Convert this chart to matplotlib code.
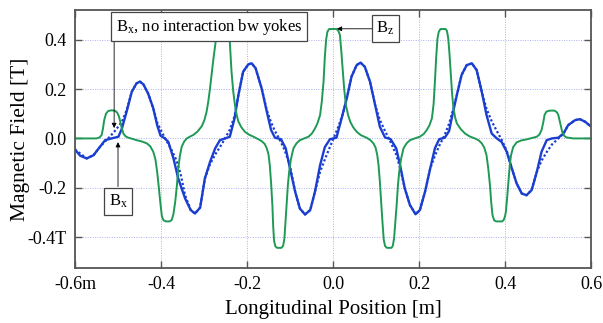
import matplotlib
matplotlib.use("Agg")
import matplotlib.pyplot as plt

plt.rcParams['font.family'] = ['Liberation Serif', 'DejaVu Serif']
plt.rcParams['mathtext.fontset'] = 'custom'
plt.rcParams['mathtext.rm'] = 'Liberation Serif'
plt.rcParams['mathtext.it'] = 'Liberation Serif'

# Bz (green)
bz_x = [-0.600, -0.550, -0.543, -0.538, -0.535, -0.532, -0.528, -0.523, -0.515, -0.507,
        -0.502, -0.498, -0.495, -0.491, -0.487, -0.482, -0.476, -0.466, -0.457, -0.445,
        -0.433, -0.425, -0.418, -0.413, -0.409, -0.405, -0.401, -0.398, -0.394, -0.388,
        -0.380, -0.375, -0.371, -0.367, -0.363, -0.360, -0.356, -0.352, -0.346, -0.340,
        -0.332, -0.325, -0.315, -0.305, -0.299, -0.294, -0.290, -0.286, -0.282, -0.278,
        -0.273, -0.269, -0.265, -0.250, -0.245, -0.240, -0.238, -0.236, -0.232, -0.228,
        -0.224, -0.220, -0.213, -0.205, -0.195, -0.185, -0.175, -0.166, -0.159, -0.154,
        -0.150, -0.147, -0.144, -0.141, -0.139, -0.137, -0.134, -0.130, -0.120, -0.116,
        -0.113, -0.111, -0.108, -0.105, -0.102, -0.098, -0.092, -0.085, -0.077, -0.067,
        -0.057, -0.049, -0.042, -0.036, -0.030, -0.026, -0.022, -0.019, -0.016, -0.013,
        -0.009, 0.008, 0.012, 0.016, 0.019, 0.023, 0.026, 0.030, 0.035, 0.040,
        0.047, 0.055, 0.065, 0.078, 0.087, 0.094, 0.099, 0.103, 0.106, 0.109,
        0.112, 0.115, 0.118, 0.121, 0.125, 0.136, 0.139, 0.142, 0.145, 0.148,
        0.151, 0.154, 0.158, 0.164, 0.171, 0.179, 0.190, 0.202, 0.211, 0.218,
        0.224, 0.230, 0.234, 0.237, 0.240, 0.243, 0.246, 0.250, 0.262, 0.265,
        0.268, 0.271, 0.274, 0.277, 0.280, 0.284, 0.288, 0.297, 0.307, 0.318,
        0.330, 0.339, 0.346, 0.352, 0.357, 0.361, 0.365, 0.368, 0.371, 0.375,
        0.380, 0.393, 0.397, 0.400, 0.402, 0.405, 0.408, 0.411, 0.414, 0.419,
        0.427, 0.438, 0.450, 0.463, 0.474, 0.480, 0.485, 0.489, 0.492, 0.496,
        0.502, 0.510, 0.516, 0.521, 0.524, 0.528, 0.533, 0.538, 0.543, 0.559,
        0.600]
bz_y = [0.0, 0.0, 0.004, 0.014, 0.040, 0.075, 0.100, 0.111, 0.114, 0.112,
        0.105, 0.090, 0.070, 0.040, 0.018, 0.008, 0.003, -0.002, -0.007, -0.012,
        -0.020, -0.032, -0.054, -0.085, -0.135, -0.200, -0.270, -0.315, -0.332, -0.336,
        -0.336, -0.330, -0.305, -0.257, -0.190, -0.122, -0.070, -0.034, -0.012, 0.0,
        0.008, 0.014, 0.028, 0.050, 0.075, 0.108, 0.150, 0.203, 0.265, 0.324,
        0.390, 0.430, 0.443, 0.443, 0.430, 0.390, 0.330, 0.270, 0.190, 0.135,
        0.095, 0.068, 0.045, 0.027, 0.015, 0.007, -0.002, -0.011, -0.022, -0.040,
        -0.065, -0.108, -0.180, -0.270, -0.360, -0.415, -0.437, -0.443, -0.443, -0.435,
        -0.405, -0.350, -0.270, -0.190, -0.135, -0.085, -0.040, -0.020, -0.007, 0.0,
        0.007, 0.020, 0.040, 0.062, 0.095, 0.150, 0.230, 0.330, 0.400, 0.432,
        0.443, 0.443, 0.437, 0.420, 0.360, 0.270, 0.200, 0.135, 0.095, 0.068,
        0.045, 0.027, 0.013, 0.003, -0.007, -0.020, -0.037, -0.068, -0.110, -0.176,
        -0.260, -0.338, -0.410, -0.435, -0.443, -0.443, -0.435, -0.405, -0.340, -0.270,
        -0.190, -0.135, -0.085, -0.040, -0.020, -0.007, 0.0, 0.007, 0.018, 0.034,
        0.052, 0.081, 0.140, 0.230, 0.330, 0.405, 0.432, 0.443, 0.443, 0.435,
        0.405, 0.340, 0.260, 0.180, 0.125, 0.085, 0.061, 0.038, 0.020, 0.008,
        0.0, -0.008, -0.020, -0.038, -0.068, -0.120, -0.189, -0.260, -0.311, -0.332,
        -0.336, -0.336, -0.330, -0.315, -0.297, -0.240, -0.176, -0.110, -0.068, -0.035,
        -0.016, -0.008, -0.004, 0.002, 0.007, 0.016, 0.034, 0.065, 0.095, 0.108,
        0.112, 0.113, 0.112, 0.105, 0.095, 0.065, 0.027, 0.010, 0.004, 0.0,
        0.0]

# Bx (blue solid)
bx_x = [-0.600, -0.588, -0.573, -0.557, -0.542, -0.530, -0.515, -0.499, -0.491, -0.480,
        -0.468, -0.457, -0.449, -0.441, -0.430, -0.418, -0.409, -0.401, -0.391, -0.383,
        -0.371, -0.360, -0.344, -0.331, -0.321, -0.309, -0.298, -0.286, -0.274, -0.263,
        -0.251, -0.240, -0.229, -0.220, -0.209, -0.197, -0.189, -0.180, -0.166, -0.154,
        -0.144, -0.135, -0.121, -0.110, -0.100, -0.088, -0.077, -0.065, -0.053, -0.042,
        -0.030, -0.019, -0.007, 0.008, 0.020, 0.032, 0.043, 0.055, 0.064, 0.074,
        0.086, 0.098, 0.109, 0.121, 0.134, 0.147, 0.156, 0.167, 0.179, 0.192,
        0.202, 0.214, 0.226, 0.237, 0.247, 0.260, 0.270, 0.276, 0.288, 0.299,
        0.311, 0.323, 0.334, 0.346, 0.357, 0.369, 0.381, 0.392, 0.404, 0.416,
        0.427, 0.439, 0.450, 0.462, 0.474, 0.485, 0.497, 0.509, 0.524, 0.536,
        0.547, 0.563, 0.574, 0.586, 0.598]
bx_y = [-0.045, -0.070, -0.081, -0.068, -0.034, -0.007, 0.0, 0.007, 0.040, 0.108,
        0.189, 0.223, 0.230, 0.219, 0.182, 0.122, 0.054, 0.011, 0.0, -0.014,
        -0.081, -0.162, -0.243, -0.290, -0.304, -0.280, -0.162, -0.095, -0.040, -0.007,
        0.0, 0.007, 0.081, 0.176, 0.270, 0.300, 0.304, 0.284, 0.203, 0.108,
        0.034, 0.003, -0.003, -0.040, -0.122, -0.216, -0.284, -0.308, -0.290, -0.216,
        -0.108, -0.035, -0.003, 0.003, 0.081, 0.162, 0.250, 0.297, 0.307, 0.290,
        0.230, 0.135, 0.047, 0.004, -0.003, -0.040, -0.108, -0.203, -0.270, -0.307,
        -0.290, -0.216, -0.122, -0.040, -0.003, 0.003, 0.030, 0.081, 0.176, 0.257,
        0.297, 0.304, 0.277, 0.189, 0.095, 0.020, 0.0, -0.014, -0.054, -0.122,
        -0.182, -0.223, -0.230, -0.209, -0.135, -0.054, -0.007, 0.0, 0.003, 0.020,
        0.054, 0.074, 0.078, 0.068, 0.051]

# Bx, no interaction between yokes (blue dotted)
bx0_x = [-0.600, -0.573, -0.557, -0.542, -0.530, -0.519, -0.505, -0.491, -0.480, -0.468,
         -0.457, -0.449, -0.441, -0.430, -0.418, -0.409, -0.398, -0.387, -0.376, -0.365,
         -0.355, -0.344, -0.331, -0.321, -0.309, -0.298, -0.286, -0.274, -0.263, -0.251,
         -0.240, -0.229, -0.220, -0.209, -0.197, -0.189, -0.180, -0.166, -0.154, -0.144,
         -0.135, -0.124, -0.113, -0.100, -0.088, -0.077, -0.065, -0.053, -0.042, -0.030,
         -0.019, -0.008, 0.003, 0.013, 0.023, 0.032, 0.043, 0.055, 0.064, 0.074,
         0.086, 0.098, 0.109, 0.121, 0.134, 0.147, 0.156, 0.167, 0.179, 0.192,
         0.202, 0.214, 0.226, 0.237, 0.247, 0.260, 0.270, 0.280, 0.288, 0.299,
         0.311, 0.323, 0.334, 0.346, 0.357, 0.369, 0.381, 0.392, 0.404, 0.416,
         0.427, 0.439, 0.450, 0.462, 0.474, 0.485, 0.497, 0.509, 0.524, 0.536,
         0.547, 0.563, 0.574, 0.586, 0.598]
bx0_y = [-0.045, -0.081, -0.068, -0.034, -0.012, 0.007, 0.035, 0.067, 0.115, 0.189,
         0.223, 0.230, 0.219, 0.182, 0.122, 0.065, 0.025, -0.010, -0.045, -0.085,
         -0.140, -0.230, -0.290, -0.304, -0.280, -0.162, -0.105, -0.065, -0.035, 0.0,
         0.035, 0.090, 0.176, 0.270, 0.300, 0.304, 0.284, 0.203, 0.115, 0.065,
         0.030, -0.005, -0.045, -0.110, -0.216, -0.284, -0.308, -0.290, -0.216, -0.135,
         -0.085, -0.038, 0.008, 0.050, 0.100, 0.162, 0.250, 0.297, 0.307, 0.290,
         0.230, 0.135, 0.075, 0.030, -0.015, -0.065, -0.120, -0.203, -0.270, -0.307,
         -0.290, -0.216, -0.122, -0.070, -0.030, 0.015, 0.060, 0.120, 0.176, 0.257,
         0.297, 0.304, 0.277, 0.189, 0.120, 0.070, 0.030, -0.005, -0.050, -0.122,
         -0.182, -0.223, -0.230, -0.209, -0.135, -0.090, -0.055, -0.025, 0.0, 0.020,
         0.054, 0.074, 0.078, 0.068, 0.051]

x_ticks = [-0.6, -0.4, -0.2, 0.0, 0.2, 0.4, 0.6]
x_labels = ['-0.6m', '-0.4', '-0.2', '0.0', '0.2', '0.4', '0.6']
y_ticks = [-0.4, -0.2, 0.0, 0.2, 0.4]
y_labels = ['-0.4T', '-0.2', '0.0', '0.2', '0.4']

green = '#1e9a55'
blue = '#1a3ecf'

fig = plt.figure(figsize=(6.03, 3.23), dpi=100)
ax = fig.add_axes([0.1244, 0.170, 0.8557, 0.799])

ax.plot(bx0_x, bx0_y, color=blue, lw=1.6, linestyle=(0, (1, 1)))
ax.plot(bx_x, bx_y, color=blue, lw=1.7)
ax.plot(bz_x, bz_y, color=green, lw=1.4)

ax.set_xlim(-0.6, 0.6)
ax.set_ylim(-0.525, 0.52)
ax.set_xticks(x_ticks)
ax.set_xticklabels(x_labels)
ax.set_yticks(y_ticks)
ax.set_yticklabels(y_labels)
ax.grid(True, color='#aab0f0', linestyle=(0, (1, 1.5)), lw=0.7)
ax.tick_params(direction='in', length=5, width=1, color='#555555',
               top=True, right=True, labelsize=13, pad=6)
for s in ax.spines.values():
    s.set_color('#555555')
    s.set_linewidth(1.3)

ax.set_xlabel('Longitudinal Position [m]', fontsize=15, labelpad=5)
ax.set_ylabel('Magnetic Field [T]', fontsize=15.5, labelpad=-2)

box = dict(boxstyle='square,pad=0.28', fc='white', ec='#444444', lw=0.9)
arr = dict(arrowstyle='-|>', color='black', lw=0.6, mutation_scale=7, shrinkA=0, shrinkB=0)

# dotted-curve label
ax.annotate('', xy=(-0.509, 0.042), xytext=(-0.509, 0.39), arrowprops=arr)
ax.text(-0.288, 0.452, 'B$_\\mathrm{x}$, no interaction bw yokes', fontsize=12,
        ha='center', va='center', bbox=box, zorder=5)

# solid Bx label
ax.annotate('', xy=(-0.5, -0.015), xytext=(-0.5, -0.195), arrowprops=arr)
ax.text(-0.5, -0.255, 'B$_\\mathrm{x}$', fontsize=12, ha='center', va='center',
        bbox=box, zorder=5)

# Bz label
ax.annotate('', xy=(0.009, 0.444), xytext=(0.095, 0.444), arrowprops=arr)
ax.text(0.122, 0.446, 'B$_\\mathrm{z}$', fontsize=12, ha='center', va='center',
        bbox=box, zorder=5)

plt.savefig('out.png', dpi=100)
